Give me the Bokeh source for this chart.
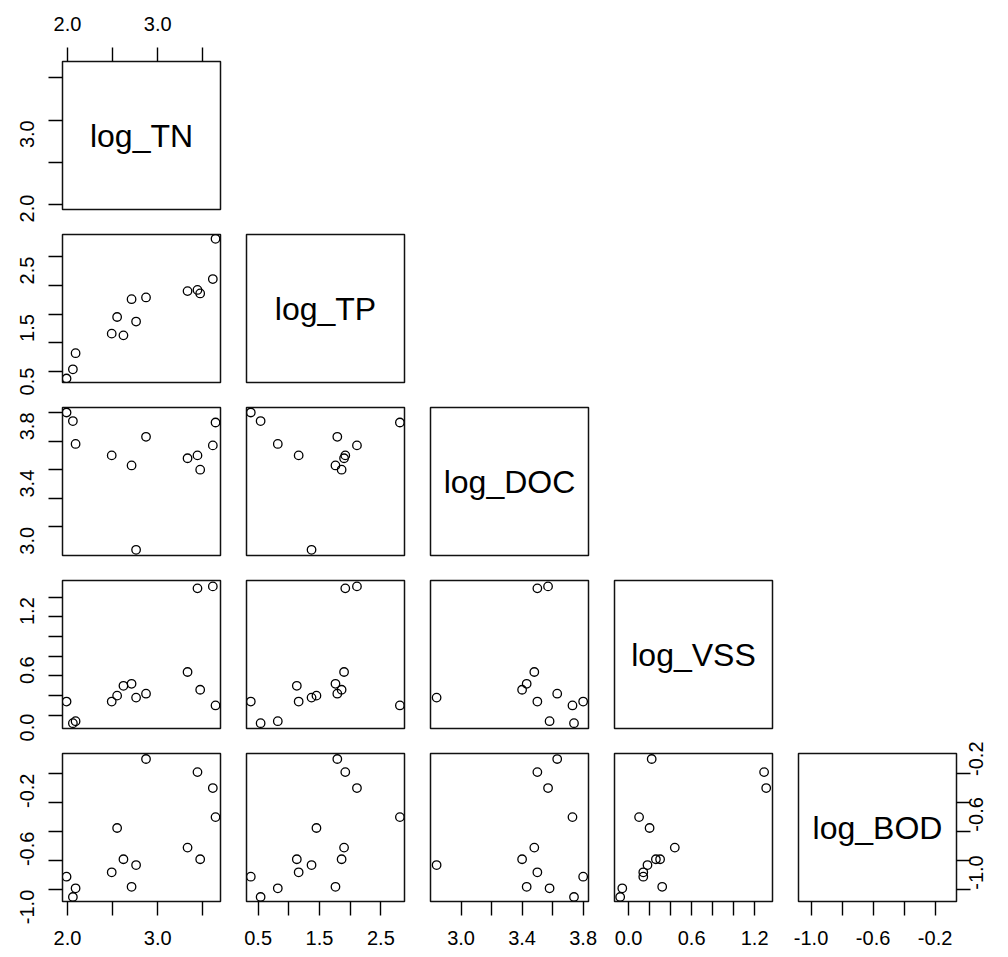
import math
import numpy as np
from bokeh.plotting import figure
from bokeh.layouts import gridplot
from bokeh.models import ColumnDataSource, Range1d, LinearAxis, FixedTicker
from bokeh.core.properties import value
from bokeh.embed import file_html
from bokeh.resources import INLINE

nan = float("nan")

# Variables shown on the diagonal, in order
var_names = ["log_TN", "log_TP", "log_DOC", "log_VSS", "log_BOD"]

# Observations (two samples have no DOC value)
log_TN = [1.99, 2.06, 2.09, 2.49, 2.55, 2.62, 2.71, 2.76, 2.87, 3.33, 3.44, 3.47, 3.61, 3.64]
log_TP = [0.38, 0.54, 0.82, 1.16, 1.45, 1.13, 1.76, 1.37, 1.79, 1.90, 1.92, 1.86, 2.11, 2.81]
log_DOC = [3.80, 3.74, 3.58, 3.50, nan, nan, 3.43, 2.84, 3.63, 3.48, 3.50, 3.40, 3.57, 3.73]
log_VSS = [0.14, -0.08, -0.06, 0.14, 0.20, 0.30, 0.32, 0.18, 0.22, 0.44, 1.29, 0.26, 1.31, 0.10]
log_BOD = [-0.91, -1.05, -0.99, -0.88, -0.575, -0.79, -0.98, -0.83, -0.10, -0.71, -0.19, -0.79, -0.30, -0.50]

# Axis limits per variable
var_ranges = [(1.945, 3.695), (0.31, 2.885), (2.80, 3.835), (-0.134, 1.37), (-1.081, -0.062)]

# Tick positions and the labels printed at them
tn_ticks = [2.0, 2.5, 3.0, 3.5]
tn_labels = ["2.0", "", "3.0", ""]
tp_ticks = [0.5, 1.0, 1.5, 2.0, 2.5]
tp_labels = ["0.5", "", "1.5", "", "2.5"]
doc_ticks = [3.0, 3.2, 3.4, 3.6, 3.8]
doc_labels = ["3.0", "", "3.4", "", "3.8"]
vss_ticks = [0.0, 0.2, 0.4, 0.6, 0.8, 1.0, 1.2]
vss_labels = ["0.0", "", "", "0.6", "", "", "1.2"]
bod_ticks = [-1.0, -0.8, -0.6, -0.4, -0.2]
bod_labels = ["-1.0", "", "-0.6", "", "-0.2"]

tick_sets = [tn_ticks, tp_ticks, doc_ticks, vss_ticks, bod_ticks]
label_sets = [tn_labels, tp_labels, doc_labels, vss_labels, bod_labels]

columns = [log_TN, log_TP, log_DOC, log_VSS, log_BOD]
source = ColumnDataSource({name: np.array(col, dtype=float) for name, col in zip(var_names, columns)})

FONT = "Liberation Sans"
N = len(var_names)
FRAME_W, FRAME_H = 158, 148
STANDOFF = {"left": 21, "right": 6, "above": 17, "below": 15}


def add_axis(p, side, k):
    ax = LinearAxis(
        ticker=FixedTicker(ticks=tick_sets[k]),
        major_label_overrides={t: s for t, s in zip(tick_sets[k], label_sets[k])},
    )
    ax.axis_line_color = None
    ax.major_tick_in = 0
    ax.major_tick_out = 14
    ax.major_tick_line_color = "black"
    ax.major_tick_line_width = 1.4
    ax.minor_tick_line_color = None
    ax.major_label_standoff = STANDOFF[side]
    ax.major_label_text_font = FONT
    ax.major_label_text_font_size = "20px"
    ax.major_label_text_color = "black"
    if side in ("left", "right"):
        ax.major_label_orientation = math.pi / 2
    p.add_layout(ax, side)


grid = [[None] * N for _ in range(N)]
for i in range(N):
    for j in range(i + 1):
        left = 62 if j == 0 else 13
        right = 52 if j == N - 1 else 13
        top = 61 if i == 0 else 12
        bottom = 56 if i == N - 1 else 13
        p = figure(
            width=left + FRAME_W + right,
            height=top + FRAME_H + bottom,
            x_range=Range1d(*var_ranges[j]),
            y_range=Range1d(*var_ranges[i]),
            x_axis_location=None,
            y_axis_location=None,
            tools="",
            toolbar_location=None,
            output_backend="svg",
            min_border_left=left,
            min_border_right=right,
            min_border_top=top,
            min_border_bottom=bottom,
        )
        p.grid.grid_line_color = None
        p.outline_line_color = "#111111"
        p.outline_line_width = 1.5
        p.background_fill_color = "white"
        p.border_fill_color = "white"

        if i == j:
            xm = sum(var_ranges[j]) / 2
            ym = sum(var_ranges[i]) / 2
            p.text(x=[xm], y=[ym], text=[var_names[i]],
                   text_font=value(FONT), text_font_size="32px",
                   text_align="center", text_baseline="middle", text_color="black")
        else:
            p.scatter(x=var_names[j], y=var_names[i], source=source, marker="circle",
                      size=8.5, fill_color=None, line_color="black", line_width=1.3)

        if j == 0:
            add_axis(p, "left", i)
        if i == 0 and j == 0:
            add_axis(p, "above", j)
        if i == N - 1:
            add_axis(p, "below", j)
        if i == N - 1 and j == N - 1:
            add_axis(p, "right", i)
        grid[i][j] = p

layout = gridplot(grid, toolbar_location=None)

with open("out.html", "w") as f:
    f.write(file_html(layout, INLINE))
